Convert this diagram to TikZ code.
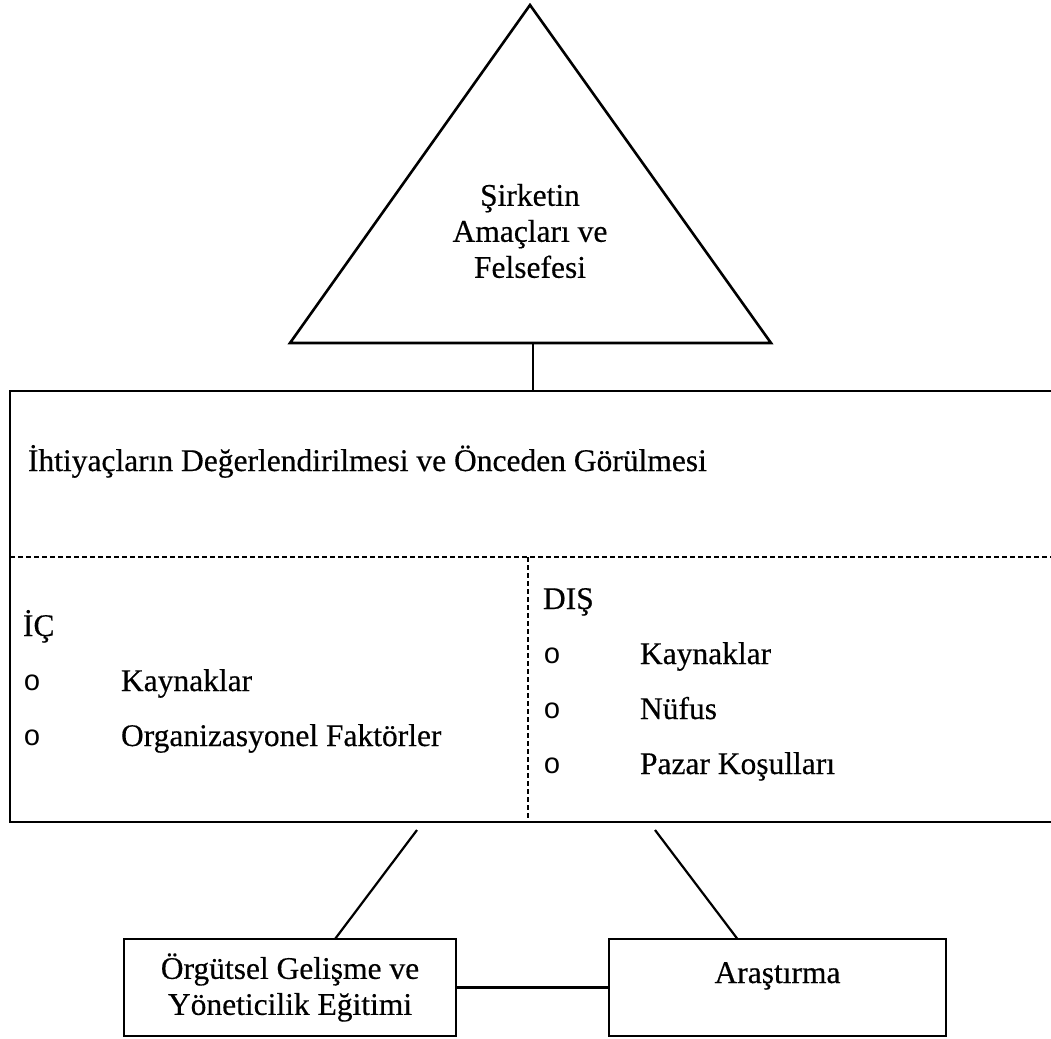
\documentclass[tikz,border=0pt]{standalone}
\usepackage{fontspec}
\setmainfont{Liberation Serif}[FakeBold=0.4]
\newfontfamily\bulletfont{Liberation Mono}
\usetikzlibrary{calc}
\begin{document}
\begin{tikzpicture}[x=1pt,y=-1pt,
  every node/.style={inner sep=0pt, outer sep=0pt, font=\fontsize{31.5}{36}\selectfont},
  tri/.style={line width=2.6pt, line join=miter},
  frame/.style={line width=2pt},
  link/.style={line width=2.2pt},
  sep/.style={line width=1.4pt, dash pattern=on 5pt off 3pt},
  txt/.style={anchor=base west},
  bul/.style={font=\fontsize{29}{36}\bulletfont, anchor=center},
  boxnode/.style={draw, line width=2.2pt, minimum height=97pt, align=center}
]
\useasboundingbox (0,0) rectangle (1051,1038);

% goals triangle
\coordinate (apex) at (530,5);
\coordinate (bl) at (290,343);
\coordinate (br) at (771,343);
\draw[tri] (apex) -- (bl) -- (br) -- cycle;
\node[align=center] (goal) at (530,231) {Şirketin\\Amaçları ve\\Felsefesi};

% needs assessment frame (open to the right)
\coordinate (ftl) at (10,391);
\coordinate (fbl) at (10,822);
\coordinate (ftr) at (1060,391);
\coordinate (fbr) at (1060,822);
\draw[frame] (ftr) -- (ftl) -- (fbl) -- (fbr);

\coordinate (tribase) at (533,343);
\coordinate (frametop) at (533,391);
\draw[link] (tribase) -- (frametop);

\node[txt] (needs) at (28,471) {İhtiyaçların Değerlendirilmesi ve Önceden Görülmesi};

% separators
\coordinate (sl) at (10,557);
\coordinate (sr) at (1060,557);
\coordinate (st) at (528,557);
\coordinate (sb) at (528,822);
\draw[sep] (sl) -- (sr);
\draw[sep] (st) -- (sb);

% internal factors
\node[txt] (ic) at (23,636) {İÇ};
\node[bul] (ib1) at (32,683) {o};
\node[bul] (ib2) at (32,738) {o};
\node[txt] (ik) at (121,691) {Kaynaklar};
\node[txt] (io) at (121,746) {Organizasyonel Faktörler};

% external factors
\node[txt] (dis) at (543,609) {DIŞ};
\node[bul] (db1) at (552,656) {o};
\node[bul] (db2) at (552,711) {o};
\node[bul] (db3) at (552,766) {o};
\node[txt] (dk) at (640,664) {Kaynaklar};
\node[txt] (dn) at (640,719) {Nüfus};
\node[txt] (dp) at (640,774) {Pazar Koşulları};

% lower boxes
\node[boxnode, minimum width=332pt] (org) at (290,987.5) {Örgütsel Gelişme ve\\Yöneticilik Eğitimi};
\node[boxnode, minimum width=337pt, text height=22pt, text depth=31pt] (res) at (777.5,987.5) {Araştırma};

\draw[link] (org.east) -- (res.west);
\coordinate (ol) at (417,830);
\coordinate (or) at (655,830);
\draw[link] (ol) -- ($(org.north)+(45,0)$);
\draw[link] (or) -- ($(res.north)+(-40,0)$);
\end{tikzpicture}
\end{document}
